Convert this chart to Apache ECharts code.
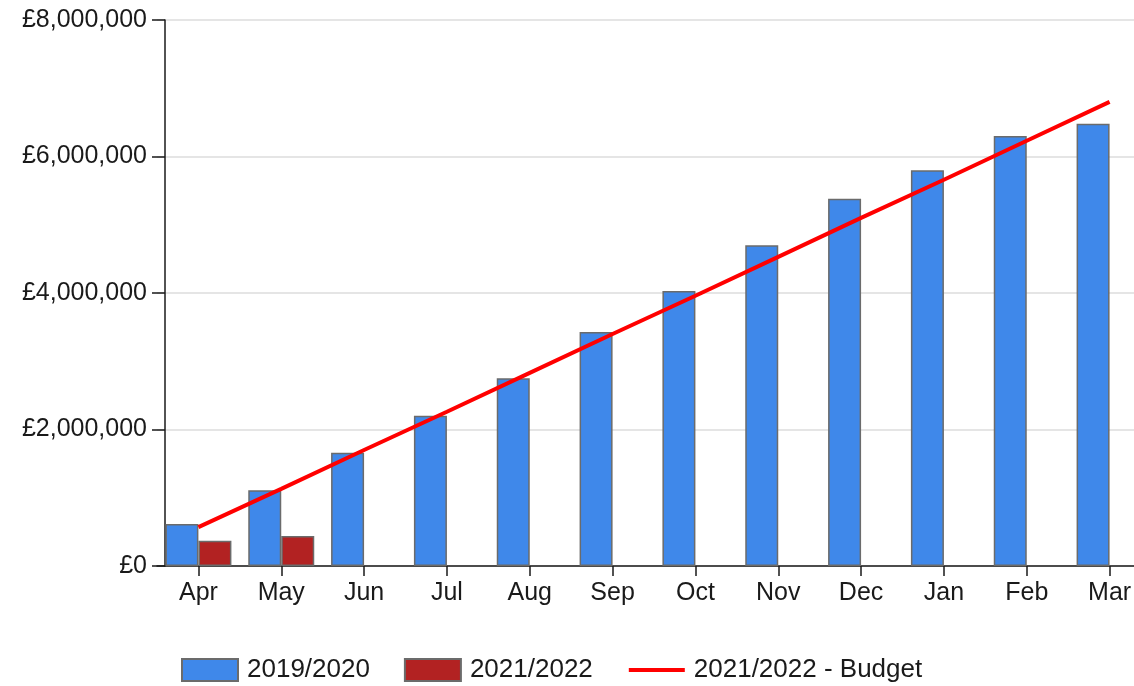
<!DOCTYPE html>
<html>
<head>
<meta charset="utf-8">
<script src="https://cdn.jsdelivr.net/npm/echarts@6/dist/echarts.min.js"></script>
<style>
  html, body { margin: 0; padding: 0; background: #fff; overflow: hidden; }
  #chart { width: 1160px; height: 686px; }
</style>
</head>
<body>
<div id="chart"></div>
<script>
// chart data
const months = ['Apr', 'May', 'Jun', 'Jul', 'Aug', 'Sep', 'Oct', 'Nov', 'Dec', 'Jan', 'Feb', 'Mar'];
const yTicks = [0, 2000000, 4000000, 6000000, 8000000];
const fy1920 = [615000, 1110000, 1660000, 2200000, 2750000, 3430000, 4030000, 4700000, 5380000, 5800000, 6300000, 6480000];
const fy2122 = [370000, 440000, null, null, null, null, null, null, null, null, null, null];
const budget2122 = [570000, 1130000, 1700000, 2260000, 2830000, 3400000, 3960000, 4530000, 5100000, 5660000, 6230000, 6800000];

const font = 'Liberation Sans, Arial, sans-serif';

const option = {
    animation: false,
    textStyle: { fontFamily: font },
    grid: { left: 157, top: 20, width: 994, height: 546 },
    legend: {
        left: 176,
        top: 652,
        itemWidth: 56,
        itemHeight: 22,
        itemGap: 34,
        textStyle: { fontSize: 26, color: '#1a1a1a', fontFamily: font, padding: [0, 0, 0, 4] },
        data: [
            { name: '2019/2020', icon: 'rect' },
            { name: '2021/2022', icon: 'rect' },
            { name: '2021/2022 - Budget', itemStyle: { opacity: 0 }, lineStyle: { width: 4 } },
        ],
    },
    xAxis: {
        type: 'category',
        data: months,
        boundaryGap: true,
        axisLine: { lineStyle: { color: '#1a1a1a', width: 1.5 } },
        axisTick: { show: true, alignWithLabel: true, length: 10, lineStyle: { color: '#1a1a1a', width: 1.5 } },
        axisLabel: { color: '#1a1a1a', fontSize: 25, margin: 15, fontFamily: font },
    },
    yAxis: {
        type: 'value',
        min: yTicks[0],
        max: yTicks[yTicks.length - 1],
        interval: 2000000,
        offset: -8,
        axisLine: { show: true, lineStyle: { color: '#1a1a1a', width: 1.5 } },
        axisTick: { show: true, length: 13, lineStyle: { color: '#1a1a1a', width: 1.5 } },
        axisLabel: {
            color: '#1a1a1a',
            fontSize: 25,
            margin: 18,
            fontFamily: font,
            formatter: v => '£' + v.toLocaleString('en-GB'),
        },
        splitLine: { lineStyle: { color: '#dcdcdc', width: 1.5 } },
    },
    series: [
        {
            name: '2019/2020',
            type: 'bar',
            data: fy1920,
            barWidth: 33,
            barGap: '0%',
            itemStyle: { color: '#3f88ea', borderColor: '#6b6b6b', borderWidth: 1.5 },
        },
        {
            name: '2021/2022',
            type: 'bar',
            data: fy2122,
            barWidth: 33,
            barGap: '0%',
            itemStyle: { color: '#b22222', borderColor: '#6b6b6b', borderWidth: 1.5 },
        },
        {
            name: '2021/2022 - Budget',
            type: 'line',
            data: budget2122,
            symbol: 'none',
            z: 5,
            lineStyle: { color: '#ff0000', width: 4 },
            itemStyle: { color: '#ff0000' },
        },
    ],
};

const chart = echarts.init(document.getElementById('chart'));
chart.setOption(option);
</script>
</body>
</html>
